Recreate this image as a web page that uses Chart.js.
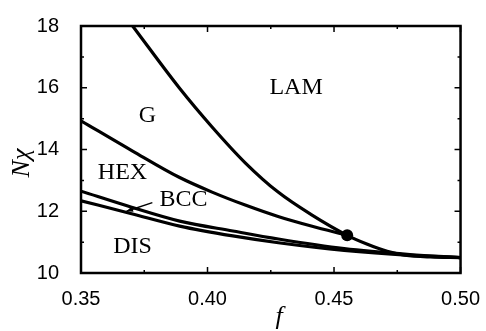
<!DOCTYPE html>
<html>
<head>
<meta charset="utf-8">
<script src="https://cdn.jsdelivr.net/npm/chart.js@4.4.0/dist/chart.umd.min.js"></script>
<style>
  html, body { margin: 0; padding: 0; background: #fff; }
</style>
</head>
<body>
<canvas id="phaseChart" width="486" height="331"></canvas>
<script>
'use strict';

// Phase boundaries (f, N chi)
let lamF = [0.3704, 0.3888, 0.4018, 0.4149, 0.4279, 0.441, 0.4552, 0.4632, 0.471, 0.478, 0.488, 0.50];
let lamN = [18.0, 16.0, 14.73, 13.57, 12.62, 11.89, 11.22, 10.93, 10.70, 10.58, 10.52, 10.50];

let hexF = [0.35, 0.3704, 0.3888, 0.4018, 0.4149, 0.4279, 0.441, 0.4552];
let hexN = [14.93, 13.95, 13.10, 12.62, 12.20, 11.83, 11.52, 11.22];

let bccF = [0.35, 0.37, 0.389, 0.41, 0.428, 0.454, 0.48, 0.50];
let bccN = [12.65, 12.13, 11.68, 11.36, 11.10, 10.79, 10.60, 10.50];

let disF = [0.35, 0.37, 0.389, 0.41, 0.428, 0.454, 0.48, 0.50];
let disN = [12.34, 11.92, 11.52, 11.20, 10.98, 10.73, 10.57, 10.50];

// triple point
let tripleF = [0.4552];
let tripleN = [11.22];

// Axis ticks
let xTicks = [0.35, 0.40, 0.45, 0.50];
let yTicks = [10, 12, 14, 16, 18];
let xMinor = [0.375, 0.425, 0.475];
let yMinor = [11, 13, 15, 17];

// Region labels
let regionNames = ['LAM', 'G', 'HEX', 'BCC', 'DIS'];
let regionF = [0.435, 0.3762, 0.3664, 0.3905, 0.3704];
let regionN = [16.0, 15.09, 13.26, 12.36, 10.85];

function toPoints(xs, ys) {
  return xs.map((v, i) => ({ x: v, y: ys[i] }));
}

function curve(xs, ys) {
  return {
    data: toPoints(xs, ys),
    showLine: true,
    borderColor: '#000',
    borderWidth: 3.2,
    pointRadius: 0,
    cubicInterpolationMode: 'monotone'
  };
}

// Frame, inward ticks, labels and axis titles
const decorations = {
  id: 'decorations',
  afterDatasetsDraw(chart) {
    const ctx = chart.ctx;
    const a = chart.chartArea;
    const xs = chart.scales.x;
    const ys = chart.scales.y;
    ctx.save();
    ctx.strokeStyle = '#000';
    ctx.lineWidth = 1.5;
    ctx.beginPath();
    xTicks.forEach(v => {
      let px = xs.getPixelForValue(v);
      ctx.moveTo(px, a.bottom); ctx.lineTo(px, a.bottom - 6);
      ctx.moveTo(px, a.top); ctx.lineTo(px, a.top + 6);
    });
    xMinor.forEach(v => {
      let px = xs.getPixelForValue(v);
      ctx.moveTo(px, a.bottom); ctx.lineTo(px, a.bottom - 3);
      ctx.moveTo(px, a.top); ctx.lineTo(px, a.top + 3);
    });
    yTicks.forEach(v => {
      let py = ys.getPixelForValue(v);
      ctx.moveTo(a.left, py); ctx.lineTo(a.left + 6, py);
      ctx.moveTo(a.right, py); ctx.lineTo(a.right - 6, py);
    });
    yMinor.forEach(v => {
      let py = ys.getPixelForValue(v);
      ctx.moveTo(a.left, py); ctx.lineTo(a.left + 3, py);
      ctx.moveTo(a.right, py); ctx.lineTo(a.right - 3, py);
    });
    ctx.stroke();

    ctx.lineWidth = 2.5;
    ctx.strokeRect(a.left, a.top, a.right - a.left, a.bottom - a.top);

    // region names
    ctx.fillStyle = '#000';
    ctx.font = '24px "Liberation Serif", "DejaVu Serif", serif';
    ctx.textAlign = 'center';
    ctx.textBaseline = 'middle';
    regionNames.forEach((name, i) => {
      ctx.fillText(name, xs.getPixelForValue(regionF[i]), ys.getPixelForValue(regionN[i]));
    });

    // pointer from BCC label into the thin BCC band
    let x0 = xs.getPixelForValue(0.368), y0 = ys.getPixelForValue(12.0);
    let x1 = xs.getPixelForValue(0.3782), y1 = ys.getPixelForValue(12.28);
    ctx.lineWidth = 1.5;
    ctx.beginPath();
    ctx.moveTo(x1, y1);
    ctx.lineTo(x0, y0);
    ctx.stroke();
    let ang = Math.atan2(y0 - y1, x0 - x1);
    ctx.beginPath();
    ctx.moveTo(x0, y0);
    ctx.lineTo(x0 - 7 * Math.cos(ang - 0.4), y0 - 7 * Math.sin(ang - 0.4));
    ctx.lineTo(x0 - 7 * Math.cos(ang + 0.4), y0 - 7 * Math.sin(ang + 0.4));
    ctx.closePath();
    ctx.fill();

    // axis titles
    ctx.font = 'italic 26px "Liberation Serif", "DejaVu Serif", serif';
    ctx.fillText('f', 279, 317);
    ctx.translate(22, 163);
    ctx.rotate(-Math.PI / 2);
    ctx.fillText('Nχ', 0, 0);
    ctx.restore();
  }
};

const ctx = document.getElementById('phaseChart');
new Chart(ctx, {
  type: 'scatter',
  data: {
    datasets: [
      curve(lamF, lamN),
      curve(hexF, hexN),
      curve(bccF, bccN),
      curve(disF, disN),
      {
        data: toPoints(tripleF, tripleN),
        pointRadius: 6,
        pointBackgroundColor: '#000',
        pointBorderColor: '#000',
        pointBorderWidth: 0
      }
    ]
  },
  options: {
    responsive: false,
    animation: false,
    layout: { padding: { top: 20, right: 22, left: 0, bottom: 0 } },
    plugins: {
      legend: { display: false },
      tooltip: { enabled: false }
    },
    scales: {
      x: {
        type: 'linear',
        min: 0.35,
        max: 0.50,
        grid: { display: false },
        border: { display: false },
        afterBuildTicks: (scale) => { scale.ticks = xTicks.map(v => ({ value: v })); },
        afterFit: (scale) => { scale.height = 58; },
        ticks: {
          color: '#000',
          padding: 6,
          maxRotation: 0,
          font: { family: '"Liberation Sans", Arial, sans-serif', size: 20 },
          callback: (v) => Number(v).toFixed(2)
        }
      },
      y: {
        type: 'linear',
        min: 10,
        max: 18,
        grid: { display: false },
        border: { display: false },
        afterBuildTicks: (scale) => { scale.ticks = yTicks.map(v => ({ value: v })); },
        afterFit: (scale) => { scale.width = 81; },
        ticks: {
          color: '#000',
          padding: 14,
          font: { family: '"Liberation Sans", Arial, sans-serif', size: 20 },
          callback: (v) => String(v)
        }
      }
    }
  },
  plugins: [decorations]
});
</script>
</body>
</html>
